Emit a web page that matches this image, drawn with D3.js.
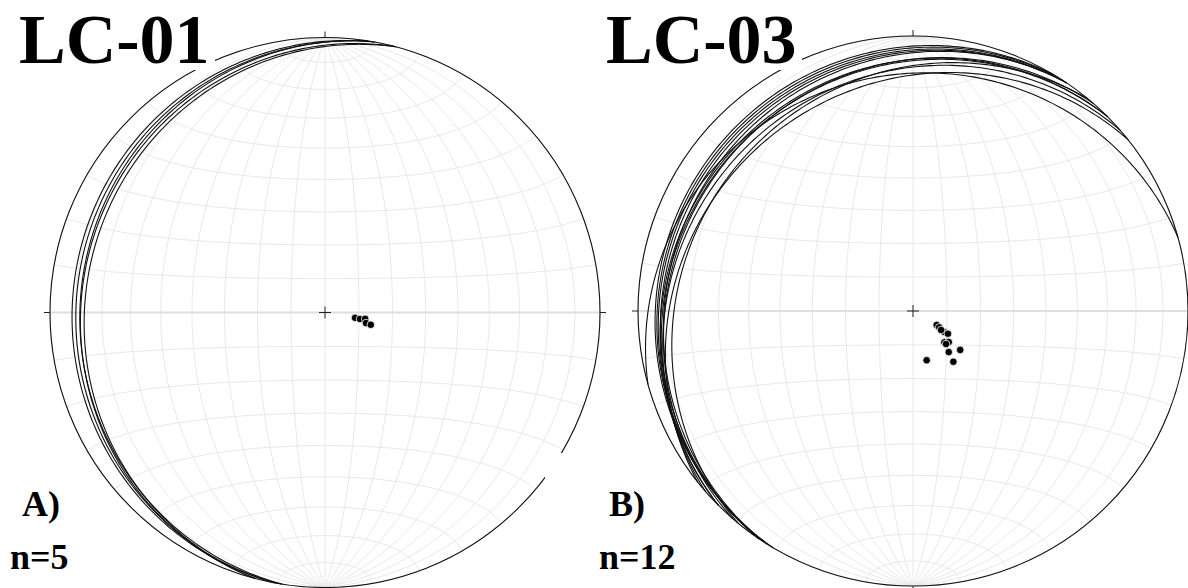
<!DOCTYPE html>
<html><head><meta charset="utf-8">
<script src="https://cdn.jsdelivr.net/npm/d3@7"></script>
<style>body{margin:0;background:#fff} svg{display:block}</style>
</head><body>
<svg id="chart" width="1188" height="588"></svg>
<script>
// ---- data (planes: dip direction / dip, lower hemisphere, equal-area) ----
const panelTitles = ["LC-01", "LC-03"];
const panelLetters = ["A)", "B)"];
const lc01DipDirection = [280, 280.5, 279, 284.5, 285];
const lc01Dip = [9, 10.5, 12, 12.5, 14];
const lc03DipDirection = [300.5, 302, 304, 303, 315, 311, 315, 319, 309.5, 321.5, 344.5, 304];
const lc03Dip = [8.1, 9.1, 11, 12.3, 13.1, 14, 13.8, 16.1, 18.1, 19.2, 15.1, 10];
const gridStep = [10, 10];

const panels = [
  {title: panelTitles[0], letter: panelLetters[0], dd: lc01DipDirection, dip: lc01Dip, cx: 325, cy: 312.5, R: 275},
  {title: panelTitles[1], letter: panelLetters[1], dd: lc03DipDirection, dip: lc03Dip, cx: 913, cy: 311, R: 275}
];

const svg = d3.select("#chart");
const rad = Math.PI / 180, deg = 180 / Math.PI;

// vector (North, East, Down) -> lon/lat in a net whose centre is "Down"
function toLonLat(n, e, d) {
  const len = Math.hypot(n, e, d);
  return [Math.atan2(e, d) * deg, Math.asin(Math.max(-1, Math.min(1, n / len))) * deg];
}
function greatCircle(dd, dip) {
  const s = (dd - 90) * rad, a = dd * rad, b = dip * rad;
  const S = [Math.cos(s), Math.sin(s), 0];
  const D = [Math.cos(b) * Math.cos(a), Math.cos(b) * Math.sin(a), Math.sin(b)];
  const coords = d3.range(0, 180.5, 1).map(t => {
    const c = Math.cos(t * rad), si = Math.sin(t * rad);
    return toLonLat(c * S[0] + si * D[0], c * S[1] + si * D[1], c * S[2] + si * D[2]);
  });
  return {type: "LineString", coordinates: coords};
}
function poleOf(dd, dip) {
  const a = dd * rad, b = dip * rad;
  return toLonLat(-Math.sin(b) * Math.cos(a), -Math.sin(b) * Math.sin(a), Math.cos(b));
}

function drawPanel(p) {
  const proj = d3.geoAzimuthalEqualArea()
    .rotate([0, 0]).scale(p.R / Math.SQRT2).translate([p.cx, p.cy])
    .clipAngle(90.01).precision(0.1);
  const path = d3.geoPath(proj);
  const g = svg.append("g");

  const grat = d3.geoGraticule().extent([[-180, -90], [180, 90]]).step(gridStep);
  g.append("g").selectAll("path").data(grat.lines()).join("path")
    .attr("d", path).attr("fill", "none").attr("stroke", "#e9e9e9").attr("stroke-width", 1);
  // E-W line (equator of the net)
  g.append("path").datum({type: "LineString", coordinates: [[-90, 0], [0, 0], [90, 0]]})
    .attr("d", path).attr("fill", "none").attr("stroke", "#dedede").attr("stroke-width", 2);

  // great circles
  g.append("g").selectAll("path").data(p.dd.map((d, i) => greatCircle(d, p.dip[i]))).join("path")
    .attr("d", path).attr("fill", "none").attr("stroke", "#111").attr("stroke-width", 1.1);

  // primitive
  g.append("circle").attr("cx", p.cx).attr("cy", p.cy).attr("r", p.R)
    .attr("fill", "none").attr("stroke", "#111").attr("stroke-width", 1.1);
  // ticks N, E, S, W
  const t = 6;
  [[0, -1], [1, 0], [0, 1], [-1, 0]].forEach(([dx, dy]) => {
    g.append("line")
      .attr("x1", p.cx + dx * p.R).attr("y1", p.cy + dy * p.R)
      .attr("x2", p.cx + dx * (p.R + t)).attr("y2", p.cy + dy * (p.R + t))
      .attr("stroke", "#222").attr("stroke-width", 1);
  });
  // centre cross
  g.append("path").attr("d", `M${p.cx - 6},${p.cy}H${p.cx + 6}M${p.cx},${p.cy - 6}V${p.cy + 6}`)
    .attr("stroke", "#222").attr("stroke-width", 1);

  // poles
  g.append("g").selectAll("circle").data(p.dd.map((d, i) => poleOf(d, p.dip[i]))).join("circle")
    .attr("cx", d => proj(d)[0]).attr("cy", d => proj(d)[1]).attr("r", 3.8)
    .attr("fill", "#000").attr("stroke", "#fff").attr("stroke-width", 0.8);
  return g;
}

drawPanel(panels[0]);
// the second picture's white background overlaps the first net's lower right
svg.append("rect").attr("x", 545).attr("y", 453).attr("width", 53).attr("height", 135).attr("fill", "#fff");
drawPanel(panels[1]);

// titles and labels
const font = "'Liberation Serif', 'Times New Roman', serif";
const titleX = [19, 606];
panels.forEach((p, i) => {
  svg.append("rect").attr("x", titleX[i] - 4).attr("y", 0).attr("width", 200).attr("height", 70).attr("fill", "#fff");
  svg.append("text").attr("x", titleX[i]).attr("y", 62.5).text(p.title)
    .attr("font-family", font).attr("font-weight", "bold").attr("font-size", 70).attr("fill", "#000");
});
const letterX = [22, 609], nX = [10, 599];
panels.forEach((p, i) => {
  svg.append("text").attr("x", letterX[i]).attr("y", 516).text(p.letter)
    .attr("font-family", font).attr("font-weight", "bold").attr("font-size", 36).attr("fill", "#000");
  svg.append("text").attr("x", nX[i]).attr("y", 569).text("n=" + p.dd.length)
    .attr("font-family", font).attr("font-weight", "bold").attr("font-size", 36).attr("fill", "#000");
});
</script>
</body></html>
